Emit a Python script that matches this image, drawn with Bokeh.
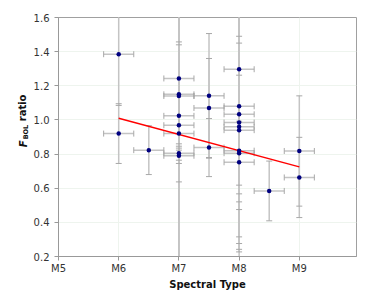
from bokeh.plotting import figure
from bokeh.models import FixedTicker, PrintfTickFormatter, Range1d
from bokeh.layouts import row
from bokeh.core.properties import value
from bokeh.embed import file_html
from bokeh.resources import INLINE
import numpy as np

# Spectral subtype (M5 = 5 ... M9 = 9)
spt = [6, 6, 6.5,
       7, 7, 7, 7, 7, 7, 7, 7,
       7.5, 7.5, 7.5,
       8, 8, 8, 8, 8, 8, 8, 8, 8,
       8.5, 9, 9]
ratio = [1.385, 0.92, 0.823,
         1.243, 1.15, 1.14, 1.024, 0.969, 0.92, 0.805, 0.79,
         1.141, 1.07, 0.838,
         1.297, 1.08, 1.033, 0.985, 0.96, 0.94, 0.82, 0.805, 0.752,
         0.584, 0.818, 0.663]
ratio_err = [0.30, 0.175, 0.143,
             0.606, 0.29, 0.317, 0.86, 0.80, 0.75, 0.041, 0.045,
             0.365, 0.29, 0.17,
             0.73, 0.605, 0.718, 0.465, 0.733, 0.664, 0.67, 0.187, 0.51,
             0.175, 0.323, 0.235]
spt_err = [0.25] * len(spt)

fit_x = [6, 9]
fit_y = [1.01, 0.725]

x_ticks = [5, 6, 7, 8, 9]
x_labels = ["M5", "M6", "M7", "M8", "M9"]
y_ticks = [0.2, 0.4, 0.6, 0.8, 1.0, 1.2, 1.4, 1.6]

x = np.array(spt, dtype=float)
y = np.array(ratio)
ey = np.array(ratio_err)
ex = np.array(spt_err)

FONT = "DejaVu Sans"

# ---- narrow strip holding the rotated y-axis title (F_BOL ratio) ----
t = figure(width=30, height=304, min_border=0, output_backend="svg", toolbar_location=None,
           x_axis_type=None, y_axis_type=None, x_range=Range1d(0, 30), y_range=Range1d(0, 304))
t.outline_line_color = None
t.background_fill_color = "white"
t.border_fill_color = "white"
title_parts = [("F", 22.5, 139, "bold italic", "10px"),
               ("BOL", 25, 149, "bold", "6.5px"),
               ("ratio", 22, 172, "bold", "10px")]
for txt, tx, ty, style, size in title_parts:
    t.text(x=[tx], y=[ty], text=[txt], angle=np.pi / 2,
           text_font=value(FONT), text_font_style=style, text_font_size=value(size),
           text_align="left", text_baseline="middle", text_color="#111111")

# ---- main chart ----
p = figure(frame_width=298, frame_height=239, output_backend="svg",
           toolbar_location=None, x_range=Range1d(5, 9.95), y_range=Range1d(0.2, 1.6),
           min_border_left=28, min_border_right=10, min_border_top=17, min_border_bottom=48)
p.background_fill_color = "white"
p.border_fill_color = "white"
p.outline_line_color = "#a0a0a0"

err_col = "#c4c4c4"
cap_col = "#a8a8a8"
# vertical error bars
p.segment(x, y - ey, x, y + ey, line_color=err_col, line_width=1.5)
# horizontal error bars
p.segment(x - ex, y, x + ex, y, line_color=err_col, line_width=1.5)
# caps
p.scatter(np.concatenate([x, x]), np.concatenate([y - ey, y + ey]), marker="dash",
          size=6, line_color=cap_col, line_width=1)
p.scatter(np.concatenate([x - ex, x + ex]), np.concatenate([y, y]), marker="dash",
          angle=np.pi / 2, size=6, line_color=cap_col, line_width=1)

p.line(fit_x, fit_y, line_color="#ff0000", line_width=1.5)
p.scatter(x, y, marker="circle", size=4.5, fill_color="#000080", line_color=None)

for ax in (p.xaxis, p.yaxis):
    ax.axis_line_color = "#999999"
    ax.major_tick_line_color = "#999999"
    ax.minor_tick_line_color = None
    ax.major_tick_in = 0
    ax.major_tick_out = 4
    ax.major_label_text_font = FONT
    ax.major_label_text_font_size = "10px"
    ax.major_label_text_color = "#333333"

p.xaxis.ticker = FixedTicker(ticks=x_ticks)
p.xaxis.major_label_overrides = {tk: lb for tk, lb in zip(x_ticks, x_labels)}
p.xaxis.major_label_standoff = 2
p.xaxis.axis_label = "Spectral Type"
p.xaxis.axis_label_text_font = FONT
p.xaxis.axis_label_text_font_style = "bold"
p.xaxis.axis_label_text_font_size = "10px"
p.xaxis.axis_label_text_color = "#111111"
p.xaxis.axis_label_standoff = 2

p.yaxis.ticker = FixedTicker(ticks=y_ticks)
p.yaxis.formatter = PrintfTickFormatter(format="%.1f")
p.yaxis.major_label_standoff = 5

p.xgrid.ticker = FixedTicker(ticks=x_ticks)
p.ygrid.ticker = FixedTicker(ticks=y_ticks)
p.grid.grid_line_color = "#eef4ee"

layout = row(t, p)
open("out.html", "w").write(file_html(layout, INLINE))
